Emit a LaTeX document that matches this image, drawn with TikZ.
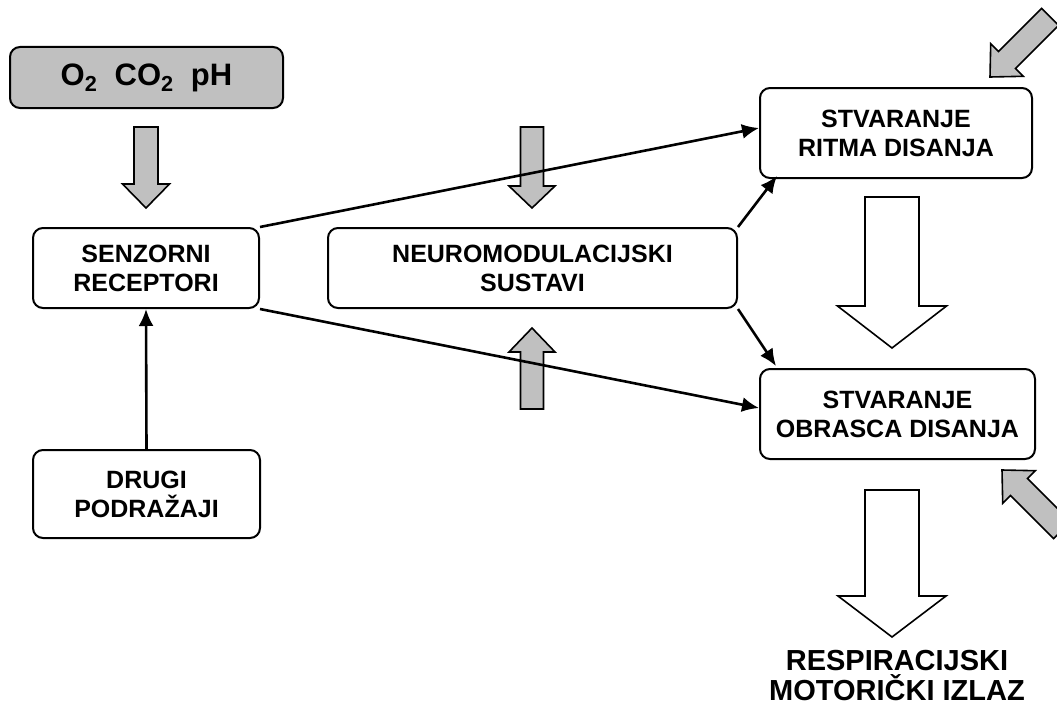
\documentclass[tikz,border=0pt]{standalone}
\usepackage{fontspec}
\setmainfont{Liberation Sans}
\usetikzlibrary{arrows.meta}

\definecolor{boxgray}{RGB}{192,192,192}
\newcommand{\boxfont}{\fontsize{25}{29}\selectfont\bfseries}
\newcommand{\gasfont}{\fontsize{31}{34}\selectfont\bfseries}
\newcommand{\outfont}{\fontsize{29}{30}\selectfont\bfseries}
% block arrow: style, tip, angle, shaft half width, head half width, head length, total length
\newcommand{\blockarrow}[7]{%
  \draw[#1, shift={#2}, rotate=#3] (-#4,-#7) -- (#4,-#7) -- (#4,-#6) -- (#5,-#6)
    -- (0,0) -- (-#5,-#6) -- (-#4,-#6) -- cycle;}

\begin{document}
\begin{tikzpicture}[x=1pt, y=-1pt,
  box/.style={draw, line width=2pt, rounded corners=10pt, align=center, font=\boxfont, inner sep=0pt},
  conn/.style={-{Latex[length=17pt,width=15pt]}, line width=2.6pt},
  grayarrow/.style={draw=black, fill=boxgray, line width=1.6pt, line join=miter},
  whitearrow/.style={draw=black, fill=white, line width=1.6pt, line join=miter}]
  \useasboundingbox (0,0) rectangle (1057,709);
  \clip (0,0) rectangle (1057,709);

  \node[box, fill=boxgray, minimum width=273pt, minimum height=61pt, font=\gasfont] (gas) at (146.5,77.5)
    {O\textsubscript{2}~~CO\textsubscript{2}~~pH};
  \node[box, minimum width=226pt, minimum height=80pt] (senz) at (146,268) {SENZORNI\\RECEPTORI};
  \node[box, minimum width=227pt, minimum height=88pt] (drugi) at (146.5,494) {DRUGI\\PODRAŽAJI};
  \node[box, minimum width=409pt, minimum height=80pt] (neuro) at (532.5,268) {NEUROMODULACIJSKI\\SUSTAVI};
  \node[box, minimum width=272pt, minimum height=90pt] (ritam) at (896,133) {STVARANJE\\RITMA DISANJA};
  \node[box, minimum width=275pt, minimum height=90pt] (obrazac) at (897.5,414) {STVARANJE\\OBRASCA DISANJA};
  \node[align=center, font=\outfont, inner sep=0pt] (izlaz) at (897,676) {RESPIRACIJSKI\\MOTORIČKI IZLAZ};

  % fat arrows
  \blockarrow{grayarrow}{(146,208)}{0}{12}{23.5}{24}{81}
  \blockarrow{grayarrow}{(532,208)}{0}{11.5}{23}{22}{81}
  \blockarrow{grayarrow}{(532,328)}{180}{11.5}{23}{24}{81}
  \blockarrow{grayarrow}{(990,77)}{-45}{12}{23}{24}{85}
  \blockarrow{grayarrow}{(1002,470)}{-135}{12}{23}{24}{85}
  \blockarrow{whitearrow}{(892,348)}{0}{27}{54.5}{42}{151}
  \blockarrow{whitearrow}{(892,637)}{0}{27}{54}{41}{147}

  % connectors
  \draw[conn] (drugi.north) -- (senz.south);
  \draw[conn] (senz.north east) -- ([yshift=5pt]ritam.west);
  \draw[conn] (senz.south east) -- ([yshift=6pt]obrazac.west);
  \draw[conn] (neuro.north east) -- ([shift={(18,-3)}]ritam.south west);
  \draw[conn] (neuro.south east) -- ([shift={(17,-2)}]obrazac.north west);
\end{tikzpicture}
\end{document}
